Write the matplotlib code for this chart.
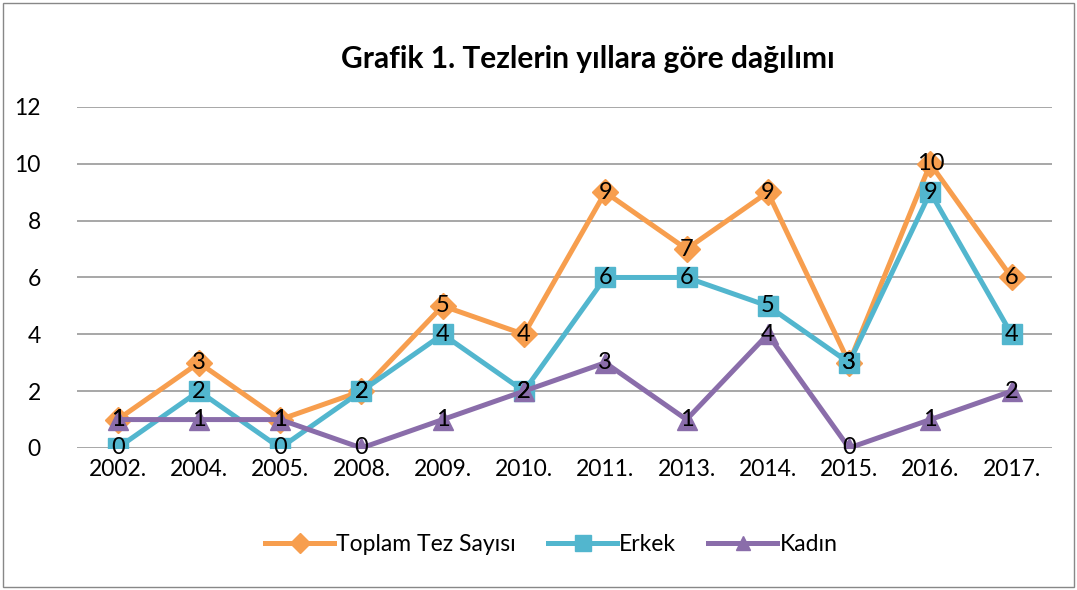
import matplotlib.pyplot as plt
from matplotlib.patches import Rectangle

years = ["2002.", "2004.", "2005.", "2008.", "2009.", "2010.",
         "2011.", "2013.", "2014.", "2015.", "2016.", "2017."]
toplam = [1, 3, 1, 2, 5, 4, 9, 7, 9, 3, 10, 6]
erkek = [0, 2, 0, 2, 4, 2, 6, 6, 5, 3, 9, 4]
kadin = [1, 1, 1, 0, 1, 2, 3, 1, 4, 0, 1, 2]

plt.rcParams['font.family'] = ['Lato', 'DejaVu Sans']

fig = plt.figure(figsize=(10.77, 5.9), dpi=100)
ax = fig.add_axes([0.0715, 0.2407, 0.9055, 0.578])

x = list(range(len(years)))
series = [
    (toplam, "Toplam Tez Sayısı", "#F79E4E", "D", 13),
    (erkek, "Erkek", "#52B6CE", "s", 15),
    (kadin, "Kadın", "#8A6DAA", "^", 14),
]
for vals, name, color, marker, ms in series:
    ax.plot(x, vals, color=color, lw=3.6, marker=marker, markersize=ms,
            label=name, solid_joinstyle='miter', zorder=3)

# data labels on top of everything
for vals, name, color, marker, ms in series:
    for xi, v in zip(x, vals):
        ax.text(xi, v, str(v), ha='center', va='center', fontsize=17,
                color='black', zorder=5)

ax.set_xlim(-0.5, 11.5)
ax.set_ylim(0, 12)
ax.set_yticks(range(0, 13, 2))
ax.set_xticks(x)
ax.set_xticklabels(years)
ax.tick_params(axis='both', length=0, labelsize=16.5, pad=8)
ax.tick_params(axis='y', pad=26)
ax.grid(axis='y', color='#A0A0A0', lw=1.3)
ax.set_axisbelow(True)
for s in ax.spines.values():
    s.set_visible(False)

fig.text(0.546, 0.9, "Grafik 1. Tezlerin yıllara göre dağılımı",
         ha='center', va='center', fontsize=21.5, fontweight='bold')

fig.legend(loc='center', bbox_to_anchor=(0.512, 0.077), ncol=3, frameon=False,
           fontsize=16.5, handlelength=3, columnspacing=1.4, handletextpad=0.1,
           markerscale=0.75)

fig.patches.append(Rectangle((0.003, 0.005), 0.994, 0.99, transform=fig.transFigure,
                             fill=False, edgecolor='#888888', lw=1))

fig.savefig("out.png", dpi=100)
